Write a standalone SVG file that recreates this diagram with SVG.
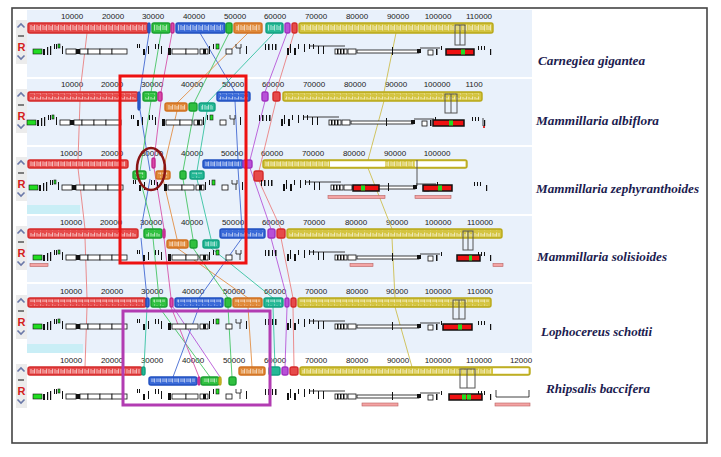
<svg xmlns="http://www.w3.org/2000/svg" width="721" height="457" viewBox="0 0 721 457">
<defs>
<pattern id="tx" width="6" height="8" patternUnits="userSpaceOnUse"><path d="M1,1v5M3,2v4M4.6,0.5v6" stroke="#fff" stroke-width="0.9" opacity="0.75"/></pattern>
<g id="gt">
<rect x="33" y="-3" width="9" height="5" class="gg"/>
<rect x="43" y="-3" width="2" height="6" class="bk"/>
<rect x="47" y="-5" width="1.2" height="8" class="bk"/>
<rect x="50" y="-6" width="1.2" height="9" class="bk"/>
<rect x="54" y="-8" width="1" height="5" class="bk"/>
<rect x="56" y="-8" width="1" height="5" class="bk"/>
<rect x="58" y="-8" width="2" height="4" class="gg"/>
<rect x="62" y="-6" width="1" height="8" class="bk"/>
<rect x="66" y="-3" width="10" height="5" class="wb"/>
<rect x="76" y="-3" width="4" height="5" class="bk"/>
<rect x="80" y="-3" width="8" height="5" class="wb"/>
<rect x="88" y="-3" width="12" height="5" class="wb"/>
<rect x="100" y="-3" width="12" height="5" class="wb"/>
<rect x="112" y="-3" width="15" height="5" class="wb"/>
<rect x="137" y="-8" width="1" height="4" class="bk"/>
<rect x="139" y="-8" width="1" height="4" class="bk"/>
<rect x="143" y="-3" width="2" height="6" class="bk"/>
<rect x="148" y="-6" width="1" height="8" class="bk"/>
<rect x="155" y="-8" width="1" height="5" class="bk"/>
<rect x="158" y="-8" width="1" height="5" class="bk"/>
<rect x="161" y="-6" width="1" height="8" class="bk"/>
<rect x="168" y="-4" width="3" height="7" class="bk"/>
<rect x="172" y="-3" width="14" height="5" class="wb"/>
<rect x="186" y="-3" width="12" height="5" class="wb"/>
<rect x="200" y="-3" width="8" height="5" class="wb"/>
<rect x="203" y="-3" width="3" height="5" class="bk"/>
<rect x="209" y="-6" width="1" height="8" class="bk"/>
<rect x="213" y="-8" width="1" height="5" class="bk"/>
<rect x="216" y="-8" width="3" height="5" class="gg"/>
<rect x="226" y="-3" width="6" height="5" class="wb"/>
<path d="M236,-8v4h5v-4M240,-4v6" class="ln"/>
<rect x="246" y="-6" width="1" height="8" class="bk"/>
<rect x="265" y="-8" width="1" height="6" class="bk"/>
<rect x="268" y="-8" width="1.5" height="6" class="bk"/>
<rect x="272" y="-8" width="1" height="6" class="bk"/>
<rect x="275" y="-8" width="1.5" height="6" class="bk"/>
<rect x="287" y="-4" width="2" height="7" class="bk"/>
<rect x="290" y="-8" width="1" height="9" class="bk"/>
<rect x="294" y="-4" width="2" height="7" class="bk"/>
<rect x="298" y="-8" width="1" height="5" class="bk"/>
<rect x="304" y="-8" width="1" height="8" class="bk"/>
<rect x="309" y="-8" width="1" height="5" class="bk"/>
<rect x="313" y="-8" width="1" height="5" class="bk"/>
<line x1="310" y1="-6" x2="345" y2="-6" class="ln"/>
<rect x="318" y="-6" width="1" height="8" class="bk"/>
<rect x="323" y="-6" width="1" height="8" class="bk"/>
<rect x="335" y="-3" width="12" height="5" class="wb"/>
<rect x="337" y="-3" width="1.5" height="5" class="bk"/>
<rect x="340" y="-3" width="1.5" height="5" class="bk"/>
<rect x="343" y="-3" width="1.5" height="5" class="bk"/>
<rect x="348" y="-3" width="8" height="5" class="wb"/>
<rect x="357" y="-2" width="62" height="3" class="wb"/>
<rect x="392" y="-5" width="1" height="8" class="bk"/>
<rect x="417" y="-3" width="4" height="4" class="bk"/>
<line x1="420" y1="-4" x2="440" y2="-4" class="ln"/>
<rect x="428" y="-2" width="5" height="5" class="wb"/>
<rect x="436" y="-3" width="1.5" height="6" class="bk"/>
<rect x="441" y="-6" width="1" height="4" class="bk"/>
<rect x="478" y="-6" width="1" height="4" class="bk"/>
<rect x="481" y="-6" width="1" height="4" class="bk"/>
<rect x="484" y="-6" width="1" height="4" class="bk"/>
<rect x="490" y="-3" width="1.2" height="6" class="bk"/>
</g>
</defs>
<style>
.band{fill:#e9f1fb}
.ctl{fill:#ececec}
.rl{font-family:"Liberation Sans",Arial,sans-serif;font-size:8px;fill:#222;text-anchor:middle}
.B{stroke-width:1.4;rx:2px}
.r{fill:#e64a4a;stroke:#d42a2a}
.g{fill:#30c040;stroke:#1aa030}
.m{fill:#d94aa8;stroke:#c02890}
.b{fill:#3a6ad8;stroke:#2050c0}
.o{fill:#e08a3a;stroke:#d07020}
.t{fill:#25b895;stroke:#10a080}
.p{fill:#b850d8;stroke:#a030c0}
.y{fill:#d4c440;stroke:#b8a818}
.tx{fill:url(#tx)}
.wh{fill:#fff}
.gg{fill:#22dd22;stroke:#111;stroke-width:0.6}
.bk{fill:#111}
.wb{fill:#fff;stroke:#111;stroke-width:0.8}
.ln{fill:none;stroke:#111;stroke-width:0.8}
.ir{fill:none;stroke:#555;stroke-width:1}
.rg{fill:#ee1111;stroke:#111;stroke-width:1.5}
.pk{fill:#f4a4a4;stroke:#b86060;stroke-width:0.6}
.c{fill:none;stroke-width:1;opacity:0.85}
.cr{stroke:#ea7a7a}.cb{stroke:#3a62d0}.cg{stroke:#3cc25a}.cm{stroke:#d54aa5}
.co{stroke:#e28a3c}.ct{stroke:#2bbf9c}.cp{stroke:#b44ed6}.cy{stroke:#cbbb45}
.sp{font-family:"Liberation Serif","Times New Roman",serif;font-size:12.5px;font-weight:bold;font-style:italic;fill:#1c1c50}
.ic{fill:none;stroke:#6a78a8;stroke-width:1.6}
.R{font-family:"Liberation Sans",Arial,sans-serif;font-size:11px;font-weight:bold;fill:#d42020;text-anchor:middle}
</style>
<rect x="0" y="0" width="721" height="457" fill="#fff"/>
<g id="bands">
<rect class="band" x="27" y="10" width="505" height="67"/>
<rect class="band" x="27" y="79" width="505" height="66"/>
<rect class="band" x="27" y="147" width="505" height="67"/>
<rect fill="#c9eef6" x="27" y="205" width="53" height="9"/>
<rect class="band" x="27" y="216" width="505" height="66"/>
<rect class="band" x="27" y="284" width="505" height="69"/>
<rect fill="#c9eef6" x="27" y="344" width="56" height="9"/>
</g>
<g id="controls">
<g transform="translate(0,23)"><rect class="ctl" x="16" y="-3" width="11" height="44"/><path class="ic" d="M17.5,4.5l3.5,-3.5l3.5,3.5"/><path d="M18,13h6" stroke="#333" stroke-width="1.2"/><text class="R" x="21.5" y="28">R</text><path class="ic" d="M17.5,32.5l3.5,3.5l3.5,-3.5"/></g>
<g transform="translate(0,92)"><rect class="ctl" x="16" y="-3" width="11" height="44"/><path class="ic" d="M17.5,4.5l3.5,-3.5l3.5,3.5"/><path d="M18,13h6" stroke="#333" stroke-width="1.2"/><text class="R" x="21.5" y="28">R</text><path class="ic" d="M17.5,32.5l3.5,3.5l3.5,-3.5"/></g>
<g transform="translate(0,160)"><rect class="ctl" x="16" y="-3" width="11" height="44"/><path class="ic" d="M17.5,4.5l3.5,-3.5l3.5,3.5"/><path d="M18,13h6" stroke="#333" stroke-width="1.2"/><text class="R" x="21.5" y="28">R</text><path class="ic" d="M17.5,32.5l3.5,3.5l3.5,-3.5"/></g>
<g transform="translate(0,229)"><rect class="ctl" x="16" y="-3" width="11" height="44"/><path class="ic" d="M17.5,4.5l3.5,-3.5l3.5,3.5"/><path d="M18,13h6" stroke="#333" stroke-width="1.2"/><text class="R" x="21.5" y="28">R</text><path class="ic" d="M17.5,32.5l3.5,3.5l3.5,-3.5"/></g>
<g transform="translate(0,298)"><rect class="ctl" x="16" y="-3" width="11" height="44"/><path class="ic" d="M17.5,4.5l3.5,-3.5l3.5,3.5"/><path d="M18,13h6" stroke="#333" stroke-width="1.2"/><text class="R" x="21.5" y="28">R</text><path class="ic" d="M17.5,32.5l3.5,3.5l3.5,-3.5"/></g>
<g transform="translate(0,367)"><rect class="ctl" x="16" y="-3" width="11" height="44"/><path class="ic" d="M17.5,4.5l3.5,-3.5l3.5,3.5"/><path d="M18,13h6" stroke="#333" stroke-width="1.2"/><text class="R" x="21.5" y="28">R</text><path class="ic" d="M17.5,32.5l3.5,3.5l3.5,-3.5"/></g>
</g>
<g id="rulers">
<g transform="translate(0,19)"><text class="rl" x="72">10000</text><text class="rl" x="113">20000</text><text class="rl" x="153">30000</text><text class="rl" x="194">40000</text><text class="rl" x="235">50000</text><text class="rl" x="275">60000</text><text class="rl" x="316">70000</text><text class="rl" x="357">80000</text><text class="rl" x="398">90000</text><text class="rl" x="438">100000</text><text class="rl" x="479">110000</text></g>
<g transform="translate(0,87)"><text class="rl" x="72">10000</text><text class="rl" x="112">20000</text><text class="rl" x="152">30000</text><text class="rl" x="192">40000</text><text class="rl" x="233">50000</text><text class="rl" x="273">60000</text><text class="rl" x="314">70000</text><text class="rl" x="355">80000</text><text class="rl" x="396">90000</text><text class="rl" x="437">100000</text><text class="rl" x="474">1100</text></g>
<g transform="translate(0,156)"><text class="rl" x="71">10000</text><text class="rl" x="112">20000</text><text class="rl" x="152">30000</text><text class="rl" x="192">40000</text><text class="rl" x="232">50000</text><text class="rl" x="272">60000</text><text class="rl" x="313">70000</text><text class="rl" x="354">80000</text><text class="rl" x="395">90000</text><text class="rl" x="437">100000</text></g>
<g transform="translate(0,225)"><text class="rl" x="71">10000</text><text class="rl" x="111">20000</text><text class="rl" x="151">30000</text><text class="rl" x="192">40000</text><text class="rl" x="233">50000</text><text class="rl" x="273">60000</text><text class="rl" x="314">70000</text><text class="rl" x="356">80000</text><text class="rl" x="397">90000</text><text class="rl" x="438">100000</text><text class="rl" x="480">110000</text></g>
<g transform="translate(0,294)"><text class="rl" x="71">10000</text><text class="rl" x="112">20000</text><text class="rl" x="152">30000</text><text class="rl" x="193">40000</text><text class="rl" x="234">50000</text><text class="rl" x="275">60000</text><text class="rl" x="316">70000</text><text class="rl" x="357">80000</text><text class="rl" x="397">90000</text><text class="rl" x="438">100000</text><text class="rl" x="480">110000</text></g>
<g transform="translate(0,363)"><text class="rl" x="71">10000</text><text class="rl" x="112">20000</text><text class="rl" x="152">30000</text><text class="rl" x="193">40000</text><text class="rl" x="234">50000</text><text class="rl" x="275">60000</text><text class="rl" x="316">70000</text><text class="rl" x="357">80000</text><text class="rl" x="398">90000</text><text class="rl" x="438">100000</text><text class="rl" x="479">110000</text><text class="rl" x="521">12000</text></g>
</g>
<g id="connectors">
<path class="c cr" d="M87,33L80,92"/><path class="c cb" d="M149,33L140,92"/><path class="c cg" d="M161,33L151,92"/><path class="c cm" d="M172,33L161,92"/><path class="c cb" d="M200,33L235,92"/><path class="c cg" d="M229,33L194,103"/><path class="c co" d="M248,33L177,103"/><path class="c ct" d="M274,33L207,103"/><path class="c cp" d="M287,33L265,92"/><path class="c cr" d="M294,33L276,92"/><path class="c cy" d="M396,33L384,92"/>
<path class="c cr" d="M80,101L78,160"/><path class="c cb" d="M140,110L150,171"/><path class="c cg" d="M151,101L140,171"/><path class="c cm" d="M161,101L154,160"/><path class="c co" d="M177,111L163,171"/><path class="c cg" d="M194,111L183,171"/><path class="c ct" d="M207,111L197,171"/><path class="c cb" d="M235,101L238,160"/><path class="c cp" d="M265,101L250,160"/><path class="c cr" d="M276,101L259,171"/><path class="c cy" d="M384,101L368,160"/>
<path class="c cr" d="M78,168L85,229"/><path class="c cb" d="M150,179L141,229"/><path class="c cg" d="M140,179L153,229"/><path class="c cm" d="M154,168L164,229"/><path class="c co" d="M163,179L177,239"/><path class="c cg" d="M183,179L193,239"/><path class="c ct" d="M197,179L211,239"/><path class="c cb" d="M238,168L242,229"/><path class="c cp" d="M250,168L271,229"/><path class="c cr" d="M259,181L281,229"/><path class="c cy" d="M368,168L392,229"/>
<path class="c cr" d="M85,238L87,298"/><path class="c cb" d="M141,238L147,298"/><path class="c cg" d="M153,238L159,298"/><path class="c cm" d="M164,238L171,298"/><path class="c co" d="M177,248L248,298"/><path class="c cg" d="M193,248L228,298"/><path class="c ct" d="M211,248L273,298"/><path class="c cb" d="M242,238L199,298"/><path class="c cp" d="M271,238L287,298"/><path class="c cr" d="M281,238L293,298"/><path class="c cy" d="M392,238L395,298"/>
<path class="c cr" d="M87,307L85,367"/><path class="c ct" d="M147,307L144,367"/><path class="c cg" d="M159,307L210,377"/><path class="c cm" d="M171,307L199,377"/><path class="c cb" d="M199,307L173,377"/><path class="c cp" d="M173,307L220,377"/><path class="c cg" d="M228,307L232,377"/><path class="c co" d="M248,307L252,367"/><path class="c ct" d="M273,307L275,367"/><path class="c cp" d="M287,307L285,367"/><path class="c cr" d="M293,307L294,367"/><path class="c cy" d="M395,307L412,367"/>
</g>
<g id="genome1">
<rect class="B r" x="28" y="23" width="120" height="10"/><rect class="tx" x="30" y="24.5" width="116" height="7"/>
<rect class="B b" x="148" y="23" width="2" height="10"/>
<rect class="B g" x="152" y="23" width="18" height="10"/><rect class="tx" x="154" y="24.5" width="14" height="7"/>
<rect class="B m" x="171" y="23" width="3" height="10"/>
<rect class="B b" x="176" y="23" width="49" height="10"/><rect class="tx" x="178" y="24.5" width="45" height="7"/>
<rect class="B g" x="226" y="23" width="6" height="10"/>
<rect class="B o" x="234" y="23" width="28" height="10"/><rect class="tx" x="236" y="24.5" width="24" height="7"/>
<rect class="B t" x="266" y="23" width="17" height="10"/><rect class="tx" x="268" y="24.5" width="13" height="7"/>
<rect class="B p" x="285" y="23" width="5" height="10"/>
<rect class="B r" x="292" y="23" width="5" height="10"/>
<rect class="B y" x="299" y="23" width="194" height="10"/><rect class="tx" x="301" y="24.5" width="190" height="7"/>
<rect class="ir" x="455" y="25" width="10" height="20"/><line class="ir" x1="460" y1="25" x2="460" y2="45"/>
<use href="#gt" transform="translate(0,52)"/>
<rect class="rg" x="446" y="49" width="28" height="6"/><rect fill="#22dd22" x="461" y="49.5" width="4" height="5"/>
</g>
<g id="genome2">
<rect class="B r" x="28" y="92" width="110" height="9"/><rect class="tx" x="30" y="93.5" width="106" height="6"/>
<rect class="B b" x="138" y="92" width="2" height="18"/>
<rect class="B g" x="143" y="92" width="14" height="9"/><rect class="tx" x="145" y="93.5" width="10" height="6"/>
<rect class="B m" x="158" y="92" width="4" height="9"/>
<rect class="B b" x="217" y="92" width="33" height="9"/><rect class="tx" x="219" y="93.5" width="29" height="6"/>
<rect class="B p" x="262" y="92" width="6" height="9"/>
<rect class="B r" x="273" y="92" width="7" height="9"/>
<rect class="B y" x="283" y="92" width="199" height="9"/><rect class="tx" x="285" y="93.5" width="195" height="6"/>
<rect class="B o" x="165" y="103" width="22" height="8"/><rect class="tx" x="167" y="104.5" width="18" height="5"/>
<rect class="B g" x="189" y="103" width="8" height="8"/>
<rect class="B t" x="199" y="103" width="16" height="8"/><rect class="tx" x="201" y="104.5" width="12" height="5"/>
<rect class="ir" x="445" y="94" width="12" height="19"/><line class="ir" x1="451" y1="94" x2="451" y2="113"/>
<use href="#gt" transform="translate(-6,123)"/>
<rect class="rg" x="433" y="120" width="31" height="6"/><rect fill="#22dd22" x="449" y="120.5" width="4" height="5"/>
<path class="ln" d="M483,118v8h2"/><rect fill="#e03030" x="483" y="126" width="2" height="2"/>
</g>
<g id="genome3">
<rect class="B r" x="28" y="160" width="100" height="8"/><rect class="tx" x="30" y="161.5" width="96" height="5"/>
<rect class="B m" x="152" y="158" width="3" height="10"/>
<rect class="B b" x="203" y="160" width="40" height="8"/><rect class="tx" x="205" y="161.5" width="36" height="5"/>
<rect class="B p" x="243" y="160" width="9" height="8"/>
<rect class="B y" x="263" y="160" width="204" height="8"/><rect class="tx" x="265" y="161.5" width="64" height="5"/><rect class="wh" x="330" y="161.3" width="55" height="5.4"/><rect class="tx" x="385" y="161.5" width="30" height="5"/><rect class="wh" x="415" y="161.3" width="50.5" height="5.4"/>
<line class="ir" x1="417" y1="160" x2="417" y2="186"/>
<rect class="B g" x="133" y="171" width="13" height="8"/><rect class="tx" x="135" y="172.5" width="9" height="5"/>
<rect class="B o" x="156" y="171" width="14" height="8"/><rect class="tx" x="158" y="172.5" width="10" height="5"/>
<rect class="B g" x="180" y="171" width="6" height="8"/>
<rect class="B t" x="190" y="171" width="14" height="8"/><rect class="tx" x="192" y="172.5" width="10" height="5"/>
<rect class="B r" x="254" y="171" width="9" height="10"/>
<use href="#gt" transform="translate(-4,188)"/>
<rect class="rg" x="353" y="185" width="26" height="6"/><rect fill="#22dd22" x="361" y="185.5" width="4" height="5"/>
<rect class="rg" x="423" y="185" width="29" height="6"/><rect fill="#22dd22" x="438" y="185.5" width="4" height="5"/>
<rect class="pk" x="328" y="195.5" width="57" height="3"/><rect class="pk" x="415" y="195.5" width="36" height="3"/>
</g>
<g id="genome4">
<rect class="B r" x="28" y="229" width="110" height="9"/><rect class="tx" x="30" y="230.5" width="106" height="6"/>
<rect class="B g" x="144" y="229" width="18" height="9"/><rect class="tx" x="146" y="230.5" width="14" height="6"/>
<rect class="B m" x="163" y="229" width="2" height="9"/>
<rect class="B b" x="220" y="229" width="45" height="9"/><rect class="tx" x="222" y="230.5" width="41" height="6"/>
<rect class="B p" x="268" y="229" width="7" height="9"/>
<rect class="B r" x="277" y="229" width="8" height="9"/>
<rect class="B y" x="287" y="229" width="215" height="9"/><rect class="tx" x="289" y="230.5" width="211" height="6"/>
<rect class="B o" x="167" y="240" width="21" height="8"/><rect class="tx" x="169" y="241.5" width="17" height="5"/>
<rect class="B g" x="190" y="240" width="7" height="8"/>
<rect class="B t" x="203" y="240" width="16" height="8"/><rect class="tx" x="205" y="241.5" width="12" height="5"/>
<rect class="ir" x="463" y="231" width="10" height="19"/><line class="ir" x1="468" y1="231" x2="468" y2="250"/>
<use href="#gt" transform="translate(0,258)"/>
<rect class="rg" x="457" y="255" width="23" height="6"/><rect fill="#22dd22" x="469" y="255.5" width="3" height="5"/>
<rect class="pk" x="30" y="263.5" width="18" height="3"/><rect class="pk" x="350" y="263.5" width="23" height="3"/><rect class="pk" x="493" y="263.5" width="10" height="3"/>
</g>
<g id="genome5">
<rect class="B r" x="28" y="298" width="118" height="9"/><rect class="tx" x="30" y="299.5" width="114" height="6"/>
<rect class="B b" x="146" y="298" width="3" height="9"/>
<rect class="B g" x="151" y="298" width="16" height="9"/><rect class="tx" x="153" y="299.5" width="12" height="6"/>
<rect class="B m" x="170" y="298" width="3" height="9"/>
<rect class="B b" x="175" y="298" width="48" height="9"/><rect class="tx" x="177" y="299.5" width="44" height="6"/>
<rect class="B g" x="225" y="298" width="6" height="9"/>
<rect class="B o" x="233" y="298" width="29" height="9"/><rect class="tx" x="235" y="299.5" width="25" height="6"/>
<rect class="B t" x="264" y="298" width="19" height="9"/><rect class="tx" x="266" y="299.5" width="15" height="6"/>
<rect class="B p" x="285" y="298" width="4" height="9"/>
<rect class="B r" x="291" y="298" width="5" height="9"/>
<rect class="B y" x="298" y="298" width="193" height="9"/><rect class="tx" x="300" y="299.5" width="189" height="6"/>
<rect class="ir" x="453" y="300" width="12" height="19"/><line class="ir" x1="459" y1="300" x2="459" y2="319"/>
<use href="#gt" transform="translate(0,327)"/>
<rect class="rg" x="443" y="324" width="29" height="6"/><rect fill="#22dd22" x="458" y="324.5" width="4" height="5"/>
</g>
<g id="genome6">
<rect class="B r" x="28" y="367" width="114" height="8"/><rect class="tx" x="30" y="368.5" width="110" height="5"/>
<rect class="B t" x="142" y="367" width="3" height="8"/>
<rect class="B o" x="239" y="367" width="26" height="8"/><rect class="tx" x="241" y="368.5" width="22" height="5"/>
<rect class="B t" x="269" y="367" width="11" height="8"/>
<rect class="B p" x="282" y="367" width="6" height="8"/>
<rect class="B r" x="290" y="367" width="8" height="8"/>
<rect class="B y" x="300" y="367" width="230" height="8"/><rect class="tx" x="302" y="368.5" width="190" height="5"/><rect class="wh" x="493" y="368.3" width="35.5" height="5.4"/>
<rect class="B b" x="149" y="377" width="48" height="8"/><rect class="tx" x="151" y="378.5" width="44" height="5"/>
<rect class="B m" x="198" y="377" width="2" height="8"/>
<rect class="B g" x="201" y="377" width="18" height="8"/><rect class="tx" x="203" y="378.5" width="14" height="5"/>
<rect class="B y" x="219" y="377" width="2" height="8"/>
<rect class="B g" x="229" y="377" width="7" height="8"/>
<rect class="ir" x="460" y="369" width="15" height="19"/><line class="ir" x1="467" y1="369" x2="467" y2="388"/>
<use href="#gt" transform="translate(0,397)"/>
<rect class="rg" x="449" y="394" width="33" height="6"/><rect fill="#22dd22" x="462" y="394.5" width="4" height="5"/><rect fill="#22dd22" x="467" y="394.5" width="4" height="5"/>
<rect class="pk" x="362" y="403" width="36" height="3"/><rect class="pk" x="495" y="403" width="35" height="3"/>
<path class="ln" d="M496,390v7h33v-7"/>
</g>
<g id="highlights">
<rect x="120" y="76" width="126" height="187" fill="none" stroke="#ee1111" stroke-width="3"/>
<rect x="123" y="311" width="147" height="94" fill="none" stroke="#b23cb2" stroke-width="3"/>
<ellipse cx="151" cy="169" rx="14" ry="21" fill="none" stroke="#8a1515" stroke-width="2.5"/>
</g>
<g id="labels">
<text class="sp" x="538" y="65" textLength="107" lengthAdjust="spacingAndGlyphs">Carnegiea gigantea</text>
<text class="sp" x="536" y="125" textLength="123" lengthAdjust="spacingAndGlyphs">Mammillaria albiflora</text>
<text class="sp" x="536" y="193" textLength="163" lengthAdjust="spacingAndGlyphs">Mammillaria zephyranthoides</text>
<text class="sp" x="537" y="261" textLength="130" lengthAdjust="spacingAndGlyphs">Mammillaria solisioides</text>
<text class="sp" x="541" y="336" textLength="111" lengthAdjust="spacingAndGlyphs">Lophocereus schottii</text>
<text class="sp" x="546" y="393" textLength="104" lengthAdjust="spacingAndGlyphs">Rhipsalis baccifera</text>
</g>
<rect x="12" y="8" width="695" height="435" fill="none" stroke="#444" stroke-width="1.6"/>
</svg>
